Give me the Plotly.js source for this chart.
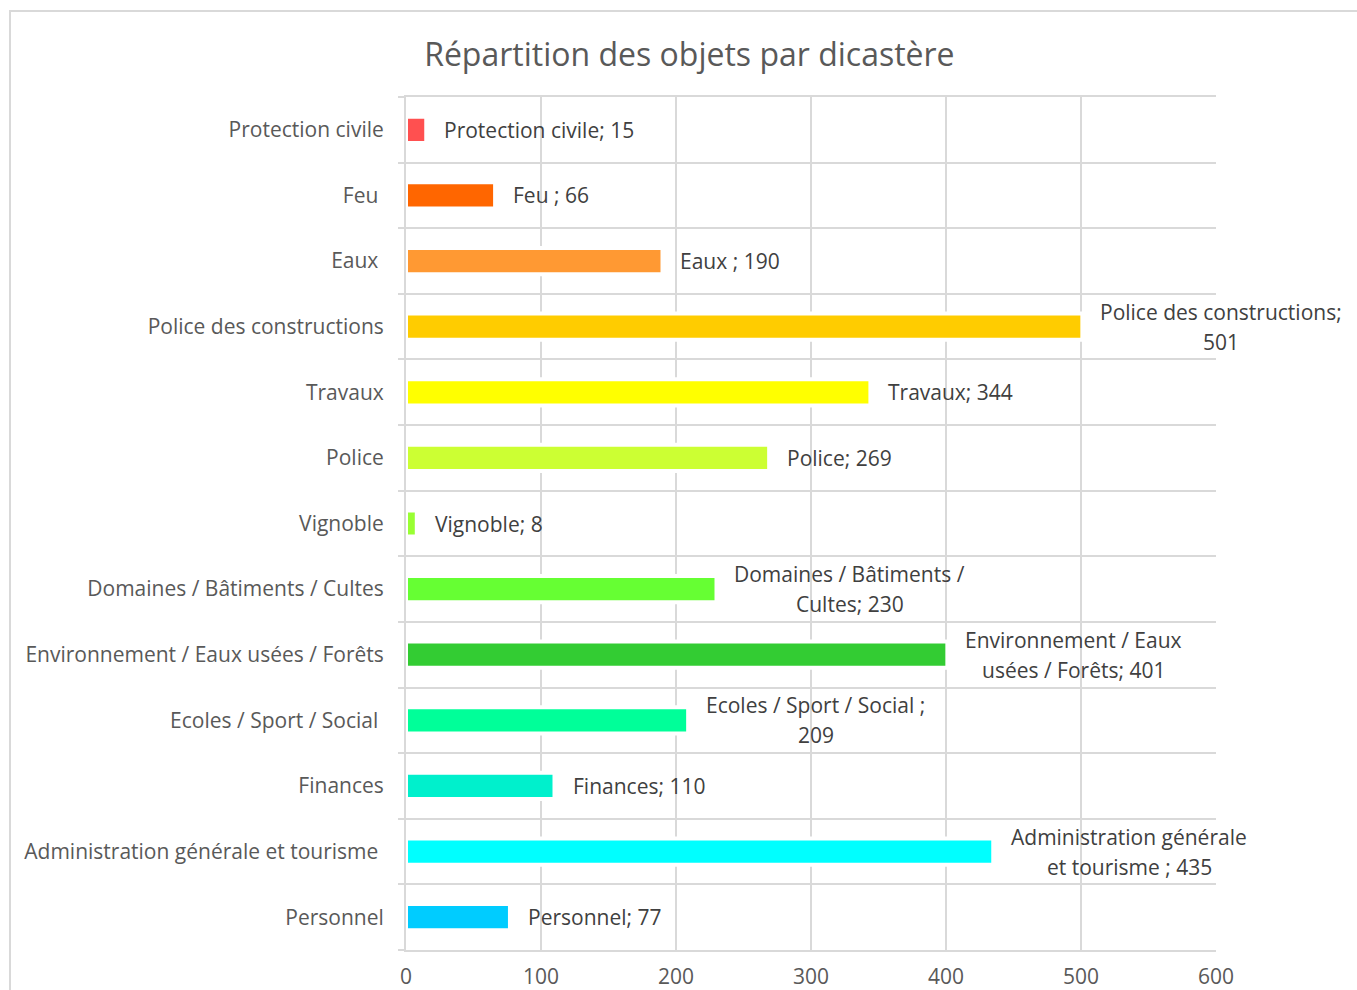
<!DOCTYPE html>
<html>
<head>
<meta charset="utf-8">
<script src="https://cdn.plot.ly/plotly-3.0.1.min.js"></script>
<style>
  html, body { margin: 0; padding: 0; background: #ffffff; overflow: hidden; }
  #frame { position: absolute; left: 9px; top: 10px; width: 1400px; height: 1000px; border: 2px solid #d9d9d9; box-sizing: border-box; }
  #chart { position: absolute; left: 0; top: 0; width: 1357px; height: 990px; }
</style>
</head>
<body>
<div id="frame"></div>
<div id="chart"></div>
<script>
// ---- Data ----
const categories = [
  "Protection civile",
  "Feu ",
  "Eaux ",
  "Police des constructions",
  "Travaux",
  "Police",
  "Vignoble",
  "Domaines / Bâtiments / Cultes",
  "Environnement / Eaux usées / Forêts",
  "Ecoles / Sport / Social ",
  "Finances",
  "Administration générale et tourisme ",
  "Personnel"
];
const values = [15, 66, 190, 501, 344, 269, 8, 230, 401, 209, 110, 435, 77];
const barColors = [
  "#FF5050", "#FF6600", "#FF9933", "#FFCC00", "#FFFF00", "#CCFF33", "#99FF33",
  "#66FF33", "#33CC33", "#00FF99", "#00F0CC", "#00FFFF", "#00CCFF"
];
const xTicks = [0, 100, 200, 300, 400, 500, 600];
const chartTitle = "Répartition des objets par dicastère";

// ---- Styling ----
const FONT = '"Open Sans", "Noto Sans", sans-serif';
const tickSize = 21;
const labelSize = 21;
const lineH = 30;
const labelGap = 18;
const gridColor = "#d9d9d9";

function wrap(text, maxChars) {
  const words = text.split(" ");
  const lines = [];
  let cur = "";
  for (const w of words) {
    const cand = cur === "" ? w : cur + " " + w;
    if (cand.length > maxChars && cur !== "") { lines.push(cur); cur = w; }
    else cur = cand;
  }
  if (cur !== "") lines.push(cur);
  return lines;
}

const canvas = document.createElement("canvas");
const ctx = canvas.getContext("2d");
ctx.font = labelSize + 'px "Open Sans"';

const annotations = [];
categories.forEach((c, i) => {
  const label = c + "; " + values[i];
  const lines = wrap(label, 25);
  const W = Math.max(...lines.map(l => ctx.measureText(l).width));
  const n = lines.length;
  lines.forEach((l, j) => {
    annotations.push({
      x: values[i], y: c, xref: "x", yref: "y",
      text: l, showarrow: false,
      xanchor: "center", yanchor: "middle",
      xshift: labelGap + W / 2,
      yshift: ((n - 1) / 2 - j) * lineH,
      font: { family: FONT, size: labelSize, color: "#404040" }
    });
  });
});

const trace = {
  type: "bar",
  orientation: "h",
  x: values,
  y: categories,
  width: 0.4,
  marker: { color: barColors, line: { color: "#ffffff", width: 4 } },
  hoverinfo: "x+y"
};

const layout = {
  width: 1357, height: 990,
  paper_bgcolor: "rgba(0,0,0,0)",
  plot_bgcolor: "rgba(0,0,0,0)",
  margin: { l: 406, r: 141, t: 97, b: 40 },
  showlegend: false,
  title: {
    text: chartTitle,
    font: { family: FONT, size: 32, color: "#595959" },
    xref: "container", x: 0.508, xanchor: "center",
    yref: "container", y: 1 - 55 / 990, yanchor: "middle"
  },
  xaxis: {
    range: [0, 600],
    tickvals: xTicks,
    ticktext: xTicks.map(String),
    showgrid: true, gridcolor: gridColor, gridwidth: 2,
    zeroline: false,
    showline: true, mirror: true, linecolor: gridColor, linewidth: 2,
    ticks: "",
    ticklabelstandoff: 7,
    tickfont: { family: FONT, size: tickSize, color: "#595959" },
    fixedrange: true
  },
  yaxis: {
    type: "category",
    autorange: "reversed",
    tickvals: categories,
    ticktext: categories.map(c => c.replace(/ $/, "\u00a0")),
    tickson: "boundaries",
    showgrid: true, gridcolor: gridColor, gridwidth: 2,
    showline: true, linecolor: gridColor, linewidth: 2,
    ticks: "outside", ticklen: 6, tickcolor: gridColor, tickwidth: 2,
    ticklabelstandoff: 16,
    layer: "above traces",
    tickfont: { family: FONT, size: tickSize, color: "#595959" },
    fixedrange: true
  },
  annotations: annotations
};

Plotly.newPlot("chart", [trace], layout, { displayModeBar: false, staticPlot: true });
</script>
</body>
</html>
